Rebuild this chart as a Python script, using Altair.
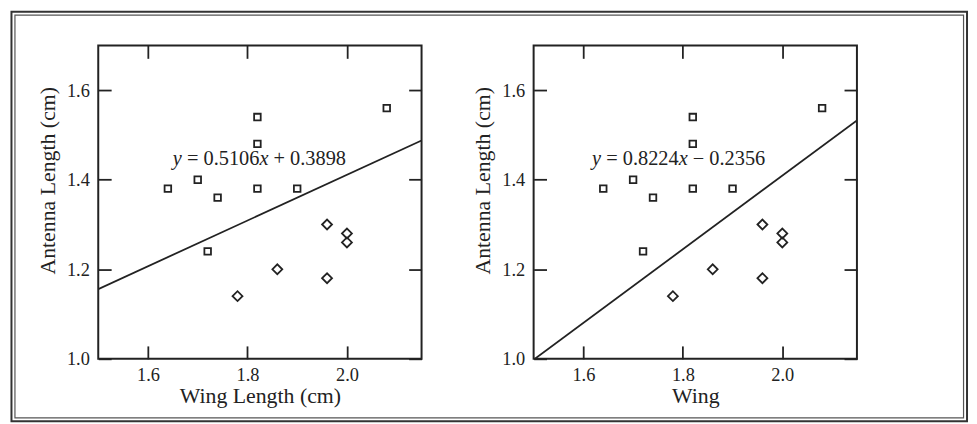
import altair as alt
import pandas as pd

# ---------------- data ----------------
species = ["Af"] * 9 + ["Apf"] * 6
wing = [1.64, 1.70, 1.72, 1.74, 1.82, 1.82, 1.82, 1.90, 2.08,
        1.78, 1.86, 1.96, 2.00, 2.00, 1.96]
antenna = [1.38, 1.40, 1.24, 1.36, 1.38, 1.48, 1.54, 1.38, 1.56,
           1.14, 1.20, 1.30, 1.28, 1.26, 1.18]

x_ticks = [1.6, 1.8, 2.0]
y_ticks = [1.0, 1.2, 1.4, 1.6]
x_domain = [1.5, 2.15]
y_domain = [1.0, 1.7]

x_titles = ["Wing Length (cm)", "Wing"]
y_title = "Antenna Length (cm)"
slopes = [0.5106, 0.8224]
intercepts = [0.3898, -0.2356]
eq_parts = [["y", "= 0.5106", "x", "+ 0.3898"],
            ["y", "= 0.8224", "x", "\u2212 0.2356"]]
eq_anchor_x = [1.650, 1.6176]
eq_anchor_y = [1.4335, 1.434]

# ---------------- style ----------------
INK = "#222222"
FONT = "Liberation Serif"
EQ_STYLE = ["italic", "normal", "italic", "normal"]
EQ_DX = [0, 14.2, 87.3, 101.5]
W, H = 326, 316


def bottom_axis(title):
    return alt.Axis(orient="bottom", values=x_ticks, format=".1f", offset=-13,
                    tickSize=13, labelPadding=7, labelFlush=False,
                    labelOverlap=False, title=title, titleY=57.5,
                    titleBaseline="alphabetic")


def left_axis():
    return alt.Axis(orient="left", values=y_ticks, format=".1f", offset=-13,
                    tickSize=13, labelPadding=9, labelFlush=False,
                    labelOverlap=False, title=y_title, titleX=-57, titleY=136,
                    titleAngle=-90, titleAlign="center",
                    titleBaseline="alphabetic")


def top_axis():
    return alt.Axis(orient="top", values=x_ticks, offset=-13, tickSize=13,
                    labels=False)


def right_axis():
    return alt.Axis(orient="right", values=y_ticks, offset=-13, tickSize=13,
                    labels=False)


def panel(i, with_frame):
    xscale = alt.Scale(domain=x_domain, nice=False, zero=False)
    yscale = alt.Scale(domain=y_domain, nice=False, zero=False)
    pts = pd.DataFrame({"wing": wing, "antenna": antenna, "species": species})
    line_df = pd.DataFrame({"x": x_domain,
                            "y": [slopes[i] * v + intercepts[i] for v in x_domain]})
    anchor = pd.DataFrame({"x": [eq_anchor_x[i]], "y": [eq_anchor_y[i]]})

    layers = []
    if with_frame:
        one = pd.DataFrame({"k": [0]})
        outer = alt.Chart(one).mark_rect(fillOpacity=0, stroke="#333333",
                                         strokeWidth=2, clip=False).encode(
            x=alt.value(-87.5), x2=alt.value(876),
            y=alt.value(-34), y2=alt.value(379))
        inner = alt.Chart(one).mark_rect(fillOpacity=0, stroke="#555555",
                                         strokeWidth=1.2, clip=False).encode(
            x=alt.value(-84), x2=alt.value(872.5),
            y=alt.value(-30.5), y2=alt.value(375.5))
        layers += [outer, inner]

    points = alt.Chart(pts).mark_point(filled=False, strokeWidth=1.8,
                                       color=INK, opacity=1).encode(
        x=alt.X("wing:Q", scale=xscale, axis=bottom_axis(x_titles[i])),
        y=alt.Y("antenna:Q", scale=yscale, axis=left_axis()),
        shape=alt.Shape("species:N",
                        scale=alt.Scale(domain=["Af", "Apf"],
                                        range=["square", "diamond"]),
                        legend=None),
        size=alt.Size("species:O",
                      scale=alt.Scale(domain=["Af", "Apf"], range=[44, 100]),
                      legend=None),
    )
    line = alt.Chart(line_df).mark_line(color=INK, strokeWidth=1.8,
                                        clip=True).encode(
        x=alt.X("x:Q", scale=xscale, axis=top_axis(), title=None),
        y=alt.Y("y:Q", scale=yscale, axis=right_axis(), title=None),
    )
    layers += [points, line]
    for part, style, dx in zip(eq_parts[i], EQ_STYLE, EQ_DX):
        layers.append(
            alt.Chart(anchor).mark_text(text=part, align="left",
                                        baseline="alphabetic", dx=dx,
                                        font=FONT, fontSize=20.5,
                                        fontStyle=style, color=INK).encode(
                x=alt.X("x:Q", scale=xscale, axis=None),
                y=alt.Y("y:Q", scale=yscale, axis=None)))
    return alt.layer(*layers).resolve_axis(
        x="independent", y="independent").properties(width=W, height=H)


chart = alt.hconcat(panel(0, True), panel(1, False), spacing=113,
                    bounds="flush").properties(
    padding={"left": 1, "top": 0, "right": 0, "bottom": 0}
).configure_view(stroke=INK, strokeWidth=2).configure_axis(
    domain=False, grid=False, tickColor=INK, tickWidth=1.8,
    labelFont=FONT, labelFontSize=18.5, labelColor=INK,
    titleFont=FONT, titleFontSize=22, titleFontWeight="normal",
    titleColor=INK)

chart.save("out.html", embed_options={"renderer": "svg", "actions": False})
